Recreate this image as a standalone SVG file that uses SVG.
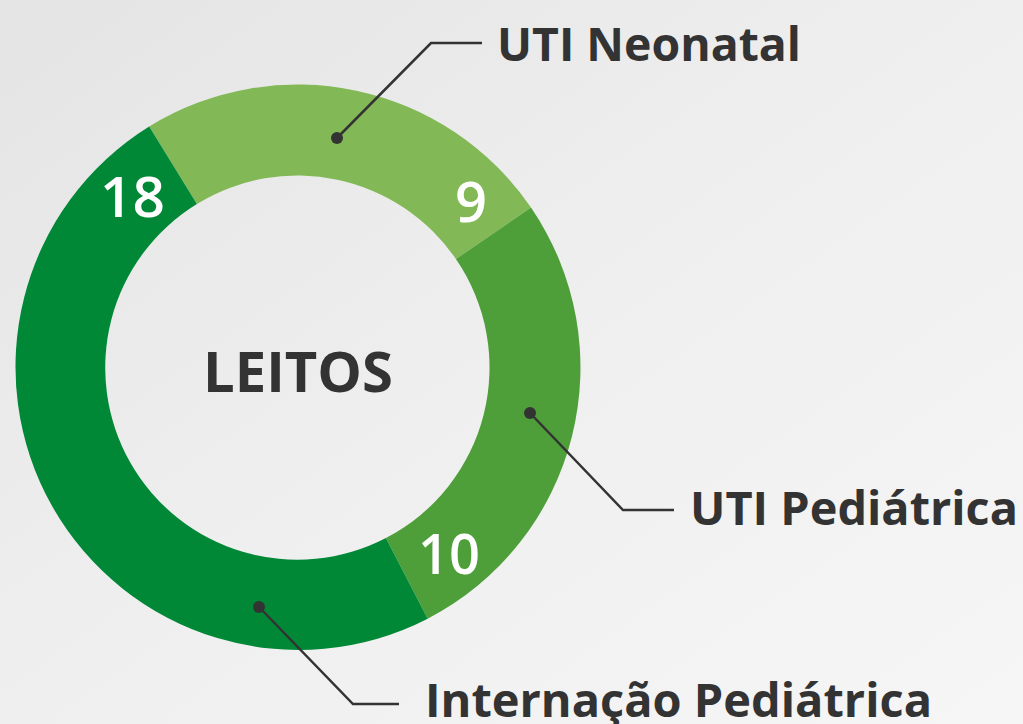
<svg xmlns="http://www.w3.org/2000/svg" width="1023" height="724" viewBox="0 0 1023 724">
<defs>
<linearGradient id="bg" x1="0" y1="0" x2="1" y2="1">
<stop offset="0" stop-color="#e4e4e4"/>
<stop offset="0.5" stop-color="#efefef"/>
<stop offset="1" stop-color="#f6f6f6"/>
</linearGradient>
</defs>
<style>
.lbl{font-family:"Open Sans","Liberation Sans",sans-serif;font-weight:700;fill:#333333}
.num{font-family:"Open Sans","Liberation Sans",sans-serif;font-weight:600;fill:#ffffff}
.conn{fill:none;stroke:#333333;stroke-width:2.5;stroke-linejoin:miter}
.dot{fill:#333333}
</style>
<rect width="1023" height="724" fill="url(#bg)"/>
<g id="seg-neonatal">
<path d="M149.2,126.5 A283,283 0 0 1 531.0,207.6 L455.9,259.0 A192,192 0 0 0 196.9,204.0 Z" fill="#82b956"/>
<text class="num" x="471" y="222" font-size="56" text-anchor="middle">9</text>
</g>
<g id="seg-pediatrica">
<path d="M531.0,207.6 A283,283 0 0 1 427.7,618.7 L385.9,538.0 A192,192 0 0 0 455.9,259.0 Z" fill="#4e9f3a"/>
<text class="num" x="449" y="574" font-size="56" text-anchor="middle" textLength="62" lengthAdjust="spacingAndGlyphs">10</text>
</g>
<g id="seg-internacao">
<path d="M427.7,618.7 A283,283 0 0 1 149.2,126.5 L196.9,204.0 A192,192 0 0 0 385.9,538.0 Z" fill="#008837"/>
<text class="num" x="132.5" y="217" font-size="56" text-anchor="middle" textLength="65" lengthAdjust="spacingAndGlyphs">18</text>
</g>
<g id="center">
<text class="lbl" x="298" y="392" font-size="56" font-weight="800" text-anchor="middle" textLength="190" lengthAdjust="spacingAndGlyphs">LEITOS</text>
</g>
<g id="connectors">
<polyline class="conn" points="337,138 431,43 482,43"/>
<circle class="dot" cx="337" cy="138" r="6"/>
<polyline class="conn" points="530,413 623,510 674,510"/>
<circle class="dot" cx="530" cy="413" r="6"/>
<polyline class="conn" points="259,607 353,704 399,704"/>
<circle class="dot" cx="259" cy="607" r="6"/>
</g>
<g id="label-neonatal">
<text class="lbl" x="497" y="61" font-size="47" textLength="304" lengthAdjust="spacingAndGlyphs">UTI Neonatal</text>
</g>
<g id="label-pediatrica">
<text class="lbl" x="690" y="525" font-size="47" textLength="328" lengthAdjust="spacingAndGlyphs">UTI Pediátrica</text>
</g>
<g id="label-internacao">
<text class="lbl" x="425" y="717" font-size="47" textLength="507" lengthAdjust="spacingAndGlyphs">Internação Pediátrica</text>
</g>
</svg>
